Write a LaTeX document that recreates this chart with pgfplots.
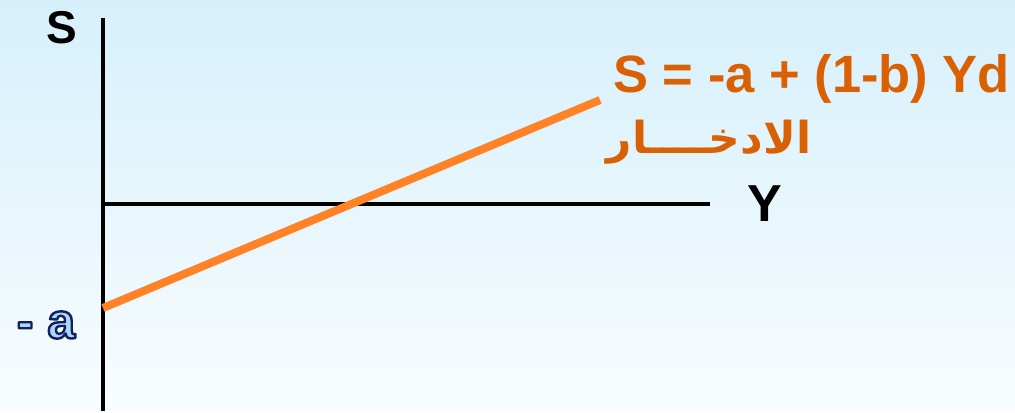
\documentclass[border=0pt]{standalone}
\usepackage{pgfplots}
\pgfplotsset{compat=1.18}
\usepackage{fontspec}
\setmainfont{Liberation Sans}
\newfontfamily\arabicfont[Script=Arabic]{DejaVu Sans}
\TeXXeTstate=1
\definecolor{bgtop}{RGB}{214,240,251}
\definecolor{bgbot}{RGB}{248,252,254}
\definecolor{lineor}{RGB}{255,130,38}
\definecolor{textor}{RGB}{218,96,4}
\definecolor{abody}{RGB}{170,215,245}
\begin{document}
\begin{tikzpicture}
\begin{axis}[
  width=1015pt, height=411pt, scale only axis,
  xmin=-103, xmax=912, ymin=-207, ymax=204,
  axis lines=none, ticks=none, clip=false,
]
\shade[top color=bgtop, bottom color=bgbot] (axis cs:-103,-207) rectangle (axis cs:912,204);
\addplot[black, line width=4pt] coordinates {(0,-207) (0,186)};
\addplot[black, line width=4pt] coordinates {(0,0) (607,0)};
\addplot[lineor, line width=8pt] coordinates {(0,-104) (497,104)};
\node[font=\bfseries\fontsize{46}{46}\selectfont] at (axis cs:-41,176) {S};
\node[font=\bfseries\fontsize{52}{52}\selectfont] at (axis cs:662,0) {Y};
\node[font=\bfseries\fontsize{50}{50}\selectfont] at (axis cs:-57,-121) {\textcolor{abody}{\special{pdf:literal direct 0.08 0.12 0.36 RG 2.4 w 1 j 2 Tr}- a\special{pdf:literal direct 0 Tr}}};
\node[anchor=base west, inner sep=0pt, text=textor, font=\bfseries\fontsize{52.5}{52.5}\selectfont] at (axis cs:510,111) {S = -a + (1-b) Yd};
\node[text=textor, font=\arabicfont\bfseries\fontsize{44}{44}\selectfont] at (axis cs:606,62) {\beginR الادخــــار\endR};
\end{axis}
\end{tikzpicture}
\end{document}
